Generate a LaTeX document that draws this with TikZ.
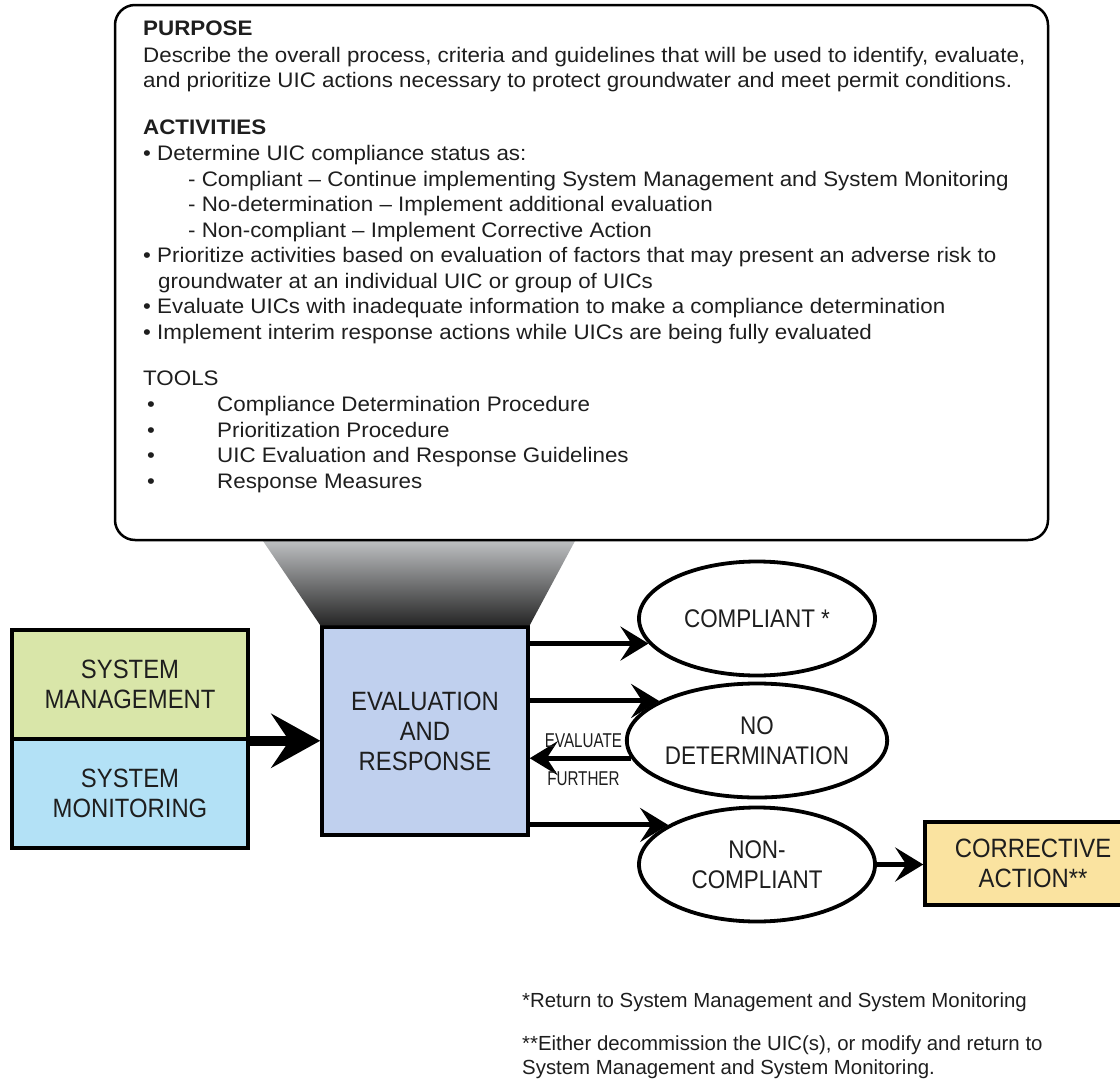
\documentclass[tikz,border=0pt]{standalone}
\usepackage{fontspec}
\setmainfont{Liberation Sans}
\newfontfamily\infofont[FakeStretch=1.065]{Liberation Sans}
\newfontfamily\boxfont[FakeStretch=0.9]{Liberation Sans}
\newfontfamily\labelfont[FakeStretch=0.88]{Liberation Sans}
\newfontfamily\narrowfont[FakeStretch=0.76]{Liberation Sans}
\usetikzlibrary{arrows.meta,shapes.geometric}
\definecolor{mgmtgreen}{HTML}{D9E6A9}
\definecolor{monblue}{HTML}{B3E1F6}
\definecolor{evalblue}{HTML}{C0D0EE}
\definecolor{corryellow}{HTML}{FAE3A0}
\definecolor{funneltop}{HTML}{BDBFC1}
\definecolor{funnelbot}{HTML}{262626}
\definecolor{ink}{HTML}{1E1E1E}
\tikzset{>=latex,
  infotext/.style={anchor=base west,inner sep=0pt,text=ink,font=\infofont\fontsize{21pt}{25.6pt}\selectfont},
  note/.style={anchor=base west,inner sep=0pt,text=ink,font=\fontsize{20.4pt}{24pt}\selectfont},
  labelbox/.style={draw=black,line width=3.5pt,align=center,inner sep=0pt,text=ink,
    font=\boxfont\fontsize{26.5pt}{30pt}\selectfont},
  status/.style={ellipse,draw=black,line width=3.8pt,minimum width=236pt,minimum height=114pt,
    inner sep=0pt,align=center,text=ink,font=\labelfont\fontsize{25.5pt}{30pt}\selectfont},
  narrowlabel/.style={inner sep=0pt,text=ink,font=\narrowfont\fontsize{20pt}{22pt}\selectfont},
  flow/.style={-{Stealth[length=28pt,width=34pt,inset=11pt]},line width=5pt},
  bigflow/.style={-{Stealth[length=49pt,width=54pt,inset=18pt]},line width=10pt}
}

\begin{document}
\begin{tikzpicture}[x=1pt,y=-1pt]
  \useasboundingbox (0,0) rectangle (1120,1079);
  \clip (0,0) rectangle (1120,1079);
  % boxes
  \node[labelbox,fill=mgmtgreen,minimum width=236pt,minimum height=109pt] (mgmt) at (130,684.5) {SYSTEM\\MANAGEMENT};
  \node[labelbox,fill=monblue,minimum width=236pt,minimum height=109pt] (monit) at (130,793.5) {SYSTEM\\MONITORING};
  \node[labelbox,fill=evalblue,minimum width=206pt,minimum height=208pt] (eval) at (425,731) {EVALUATION\\AND\\RESPONSE};
  \node[labelbox,fill=corryellow,minimum width=216pt,minimum height=83pt] (corr) at (1033,863.5) {CORRECTIVE\\ACTION**};
  % funnel
  \shade[top color=funneltop,bottom color=funnelbot] (263,541) -- (575,541) -- (eval.north east) -- (eval.north west) -- cycle;
  \node[draw=black,line width=2.5pt,rounded corners=20pt,minimum width=933pt,minimum height=535pt,inner sep=0pt] (info) at (581.5,272.5) {};
  %
  \foreach \xx/\yy/\txt [count=\i] in {
      143/35.5/{\textbf{PURPOSE}},
      143/62/{Describe the overall process, criteria and guidelines that will be used to identify, evaluate,},
      143/87.5/{and prioritize UIC actions necessary to protect groundwater and meet permit conditions.},
      143/134.5/{\textbf{ACTIVITIES}},
      143/160.5/{• Determine UIC compliance status as:},
      188/186/{- Compliant – Continue implementing System Management and System Monitoring},
      188/211.5/{- No-determination – Implement additional evaluation},
      188/237/{- Non-compliant – Implement Corrective Action},
      143/262.5/{• Prioritize activities based on evaluation of factors that may present an adverse risk to},
      158/288/{groundwater at an individual UIC or group of UICs},
      143/313.5/{• Evaluate UICs with inadequate information to make a compliance determination},
      143/339/{• Implement interim response actions while UICs are being fully evaluated},
      143/385/{TOOLS},
      147/411.5/{\makebox[70pt][l]{•}Compliance Determination Procedure},
      147/437/{\makebox[70pt][l]{•}Prioritization Procedure},
      147/462.5/{\makebox[70pt][l]{•}UIC Evaluation and Response Guidelines},
      147/488/{\makebox[70pt][l]{•}Response Measures}}
    \node[infotext] (ln\i) at (\xx,\yy) {\txt};
  % outcomes
  \node[status] (comp) at (757,618.5) {COMPLIANT *};
  \node[status] (nodet) at (757,740.5) {NO\\DETERMINATION};
  \node[status] (noncomp) at (757,864.5) {NON-\\COMPLIANT};
  %
  \draw[bigflow] (mgmt.south east) -- (eval.west |- mgmt.south east);
  \draw[flow] (eval.east |- comp.193) -- (comp.193);
  \draw[flow] (eval.east |- nodet.158) -- (nodet.158);
  \draw[flow] (eval.east |- noncomp.156) -- (noncomp.156);
  \draw[flow] (nodet.188) -- (eval.east |- nodet.188)
    node[narrowlabel,pos=.47,above=8pt] (evlab) {EVALUATE}
    node[narrowlabel,pos=.47,below=11pt] (furlab) {FURTHER};
  \draw[flow] (noncomp.east) -- (corr.west |- noncomp.east);
  % footnotes
  \node[note] (fn1) at (522,1007) {*Return to System Management and System Monitoring};
  \node[note] (fn2) at (522,1050) {**Either decommission the UIC(s), or modify and return to};
  \node[note] (fn3) at (522,1074) {System Management and System Monitoring.};
\end{tikzpicture}
\end{document}
